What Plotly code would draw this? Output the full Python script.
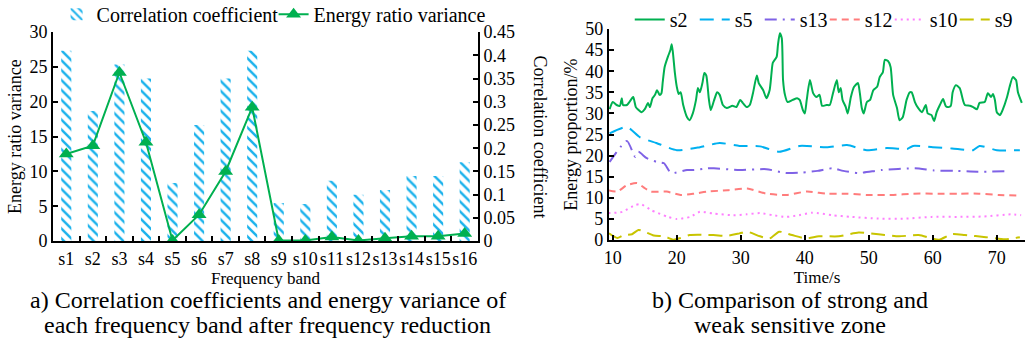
import plotly.graph_objects as go

# ---------------- data: left chart ----------------
bands = ["s1", "s2", "s3", "s4", "s5", "s6", "s7", "s8",
         "s9", "s10", "s11", "s12", "s13", "s14", "s15", "s16"]
corr_coef = [0.41, 0.28, 0.38, 0.35, 0.125, 0.25, 0.35, 0.41,
             0.082, 0.08, 0.13, 0.10, 0.11, 0.14, 0.14, 0.17]
energy_var = [12.5, 13.7, 24.2, 14.2, 0.1, 3.8, 10.0, 19.2,
              0.1, 0.1, 0.6, 0.1, 0.4, 0.7, 0.7, 1.1]

# ---------------- data: right chart ----------------
t_s2 = [9.5, 10, 10.6, 11.1, 11.4, 11.6, 12.2, 13, 13.2, 13.6, 13.9, 14.5, 15, 15.5, 15.8,
        16.2, 16.6, 16.9, 17.1, 17.3, 17.6, 17.8, 18.1, 18.6, 19, 19.2, 19.4, 19.7, 20, 20.3,
        20.6, 21, 21.6, 22, 22.5, 23, 23.3, 23.6, 24, 24.3, 24.6, 25, 25.3, 25.8, 26.3, 26.7,
        27.2, 27.8, 28.7, 29.3, 29.9, 30.3, 30.9, 31.4, 31.9, 32.5, 32.8, 33.5, 34, 34.5, 34.8,
        35, 35.6, 35.8, 36.1, 36.4, 36.6, 36.9, 37.3, 38.1, 38.8, 39.2, 39.7, 40, 40.3, 40.8,
        41.3, 41.8, 42.3, 42.7, 43.4, 43.9, 44.4, 45, 45.3, 45.6, 45.9, 46.4, 46.7, 47.2, 47.7,
        48.3, 48.6, 48.9, 49.2, 49.7, 50.2, 50.7, 51.3, 51.7, 52.2, 52.5, 53, 53.4, 53.8, 54.4,
        54.8, 55.3, 55.9, 56.4, 56.7, 57.2, 57.7, 58.3, 58.9, 59.2, 59.8, 60.2, 60.6, 61.1,
        61.6, 62, 62.3, 62.8, 63.1, 63.6, 64.2, 64.7, 65, 65.8, 66.3, 66.9, 67.3, 68.1, 68.6,
        69.1, 69.4, 69.7, 70, 70.5, 70.9, 71.6, 72, 72.5, 73, 73.3, 73.9]
v_s2 = [31, 32.7, 32, 31.8, 33.6, 32, 32, 33.6, 33.9, 31.5, 31, 30.3, 31, 32.5, 31.5,
        33.6, 34.4, 35.5, 35, 34.4, 34.8, 37.4, 41, 43.4, 45, 46.4, 44.3, 39.6, 36.3, 34.6,
        35, 32, 29.1, 28.4, 30, 33.2, 36, 35, 37.2, 39.6, 39, 33.5, 30.8, 33, 35, 34.4,
        32, 31.3, 31.8, 31.5, 33.2, 32.5, 31.5, 32, 34.8, 39, 37.2, 35.5, 33.6, 35.5, 39.6,
        42, 43.4, 46.2, 49, 47.8, 37.9, 34.4, 32.7, 33.2, 33.6, 33.2, 30.8, 30, 33.2, 37.9,
        34.8, 33.9, 34.4, 31.8, 32, 32, 34.8, 37.9, 35, 36, 33.2, 31.5, 30, 33.9, 36.3,
        37.2, 34.8, 31.3, 30, 32.7, 33.2, 35.5, 36.3, 38.6, 39.8, 42.7, 42.4, 41, 34.4, 31.3,
        28.4, 29.1, 33.2, 35, 35, 32.7, 31.3, 30.3, 32, 30, 29.6, 28.2, 30.3, 32,
        33.4, 31.8, 31.5, 31.8, 35, 36.7, 36, 33.2, 32, 31.8, 31.5, 31, 32.5, 32.7, 34.8,
        33.9, 34.6, 33.2, 30.3, 29.6, 30.8, 33.9, 36.3, 38.6, 37.9, 35, 32.5]

t_s5 = [9.5, 12.2, 14.2, 16.8, 20, 23.6, 26.7, 29.8, 33, 36, 39.2, 43.4, 46.6, 49.7, 52.8,
        56, 56.9, 60, 63, 66.3, 67.3, 70, 73.6]
v_s5 = [25.3, 26.8, 24.4, 23, 21.3, 22, 23, 22.3, 22.2, 20.9, 22.3, 22, 22.5, 21.3, 21.8,
        21.6, 22.3, 22, 21.7, 21.3, 22.3, 21.3, 21.3]

t_s13 = [9.5, 12.2, 13.5, 14, 15.3, 16.9, 18, 19.1, 21.6, 22.7, 24.7, 25.8, 29.8, 34, 37,
         39.6, 42, 44.3, 46, 48.4, 52, 57.2, 60.2, 63.4, 67, 71.5]
v_s13 = [18.5, 23.5, 19.7, 20.9, 19.4, 18.5, 18.2, 15.9, 16.6, 16.6, 17, 17, 16.6, 16.8, 15.9,
         16.0, 16.4, 17, 16.4, 15.9, 16.6, 17, 16.5, 16.4, 16.2, 16.3]

t_s12 = [9.3, 10.7, 12.2, 13.8, 14.8, 15.9, 18.4, 20.6, 22.7, 24.8, 27.9, 31, 34, 37.1,
         40.3, 43.4, 46.6, 49.7, 53.8, 56.9, 61, 64.1, 67.2, 70.3, 73.8]
v_s12 = [11.8, 11.5, 13, 13.5, 12.5, 11.5, 11.5, 10.7, 11, 11.5, 11.8, 12.2, 11, 10.7,
         11.5, 11, 11, 10.7, 10.7, 11, 11, 11, 11, 10.7, 10.5]

t_s10 = [9.3, 11.5, 13.5, 14.4, 16, 18.6, 20, 22.1, 23.6, 25.7, 28.8, 30.9, 33, 35, 37.1,
         39.1, 41.2, 44.3, 47.3, 51.5, 55.6, 59.8, 64, 68, 72.2, 73.8]
v_s10 = [6.4, 6.7, 8.3, 8.5, 7.1, 5.5, 5, 5.5, 6.7, 6.3, 5.9, 6.1, 6.4, 5.9, 5.5,
         5.9, 6.5, 5.9, 5.5, 5.1, 5.1, 5.5, 5.5, 5.6, 6.1, 5.9]

t_s9 = [9.4, 10.7, 11.7, 13, 14, 14.8, 16.4, 18, 19.5, 20.6, 22, 25.7, 27.8, 29.8, 31, 33,
        34.5, 36, 38, 40.2, 42.2, 45.3, 48.4, 51.5, 54.7, 57.8, 59.8, 61, 63, 65, 68.3,
        71.3, 73.6]
v_s9 = [1.6, 0.5, 1.2, 1.4, 2.4, 2.1, 1.1, 0.9, 0.1, 0.5, 1.2, 1.2, 1.0, 1.6, 2.0, 0.9,
        0.4, 2.0, 1.2, 0.4, 0.9, 0.9, 1.8, 1.4, 0.9, 1.2, 0.4, 0.1, 1.4, 1.2, 0.7,
        0.2, 0.7]

caption_a = ["a) Correlation coefficients and energy variance of",
             "each frequency band after frequency reduction"]
caption_b = ["b) Comparison of strong and", "weak sensitive zone"]

FONT = "Liberation Serif"
GREEN = "#00b050"


def fnt(size):
    return dict(family=FONT, size=size, color="black")


fig = go.Figure()

# ---- left chart: bars on primary (right-side) axis, line on overlaying left axis ----
fig.add_trace(go.Bar(
    x=bands, y=corr_coef, name="Correlation coefficient", xaxis="x", yaxis="y",
    width=0.38, marker=dict(color="white", line=dict(width=0),
                            pattern=dict(shape="\\", fgcolor="#1ab2ec", bgcolor="white",
                                         size=7, solidity=0.35, fillmode="replace")),
    legend="legend"))
fig.add_trace(go.Scatter(
    x=bands, y=energy_var, name="Energy ratio variance", xaxis="x", yaxis="y3",
    mode="lines+markers", line=dict(color=GREEN, width=2),
    marker=dict(symbol="triangle-up", size=13, color=GREEN), legend="legend"))

# ---- right chart ----
series = [
    ("s2", t_s2, v_s2, GREEN, "solid"),
    ("s5", t_s5, v_s5, "#00b0f0", "14px,8px"),
    ("s13", t_s13, v_s13, "#7f62e6", "12px,6px,2px,6px"),
    ("s12", t_s12, v_s12, "#ff7c7c", "7px,5px"),
    ("s10", t_s10, v_s10, "#ff80ff", "2px,4px"),
    ("s9", t_s9, v_s9, "#c8c400", "14px,7px"),
]
for name, tt, vv, col, dash in series:
    fig.add_trace(go.Scatter(
        x=tt, y=vv, name=name, xaxis="x2", yaxis="y2", mode="lines",
        line=dict(color=col, width=2, dash=dash, shape="spline", smoothing=0.6),
        legend="legend2"))

axis_common = dict(showline=True, linecolor="black", linewidth=2, ticks="inside",
                   ticklen=5, tickwidth=1.5, tickcolor="black", showgrid=False,
                   zeroline=False, tickfont=fnt(18))

annotations = [
    dict(text="Correlation coefficient", xref="paper", yref="paper", x=0.525, y=0.604,
         textangle=90, showarrow=False, font=fnt(18), xanchor="center", yanchor="middle"),
]
for i, line in enumerate(caption_a):
    annotations.append(dict(text=line, xref="paper", yref="paper", x=0.26,
                            y=[0.130, 0.058][i], xanchor="center", yanchor="middle",
                            showarrow=False, font=fnt(24)))
for i, line in enumerate(caption_b):
    annotations.append(dict(text=line, xref="paper", yref="paper", x=0.768,
                            y=[0.130, 0.058][i], xanchor="center", yanchor="middle",
                            showarrow=False, font=fnt(24)))

fig.update_layout(
    width=1029, height=345,
    margin=dict(l=0, r=0, t=0, b=0, autoexpand=False),
    paper_bgcolor="white", plot_bgcolor="white",
    font=fnt(16),
    xaxis=dict(domain=[0.0515, 0.4645], anchor="y", type="category",
               range=[-0.5, 15.5], tickson="boundaries", tickangle=0,
               title=dict(text="Frequency band", font=fnt(17), standoff=3),
               **axis_common),
    yaxis=dict(domain=[0.301, 0.907], anchor="x", side="right", range=[0, 0.45],
               dtick=0.05, **axis_common),
    yaxis3=dict(overlaying="y", side="left", anchor="x", range=[0, 30], dtick=5,
                title=dict(text="Energy ratio variance", font=fnt(18), standoff=3),
                **axis_common),
    xaxis2=dict(domain=[0.5918, 0.9961], anchor="y2", range=[9.4, 74.4], dtick=10,
                tickangle=0,
                title=dict(text="Time/s", font=fnt(17), standoff=3),
                **axis_common),
    yaxis2=dict(domain=[0.304, 0.916], anchor="x2", range=[0, 50], dtick=5,
                title=dict(text="Energy proportion/%", font=fnt(18), standoff=3),
                **axis_common),
    legend=dict(orientation="h", x=0.055, y=1.015, xanchor="left", yanchor="top",
                font=fnt(20), bgcolor="rgba(0,0,0,0)", itemwidth=30,
                entrywidth=172, entrywidthmode="pixels", traceorder="normal"),
    legend2=dict(orientation="h", x=0.612, y=1.0, xanchor="left", yanchor="top",
                 font=fnt(20), bgcolor="rgba(0,0,0,0)", itemwidth=30,
                 entrywidth=20, entrywidthmode="pixels", traceorder="normal"),
    annotations=annotations,
)

fig.write_html("out.html")
